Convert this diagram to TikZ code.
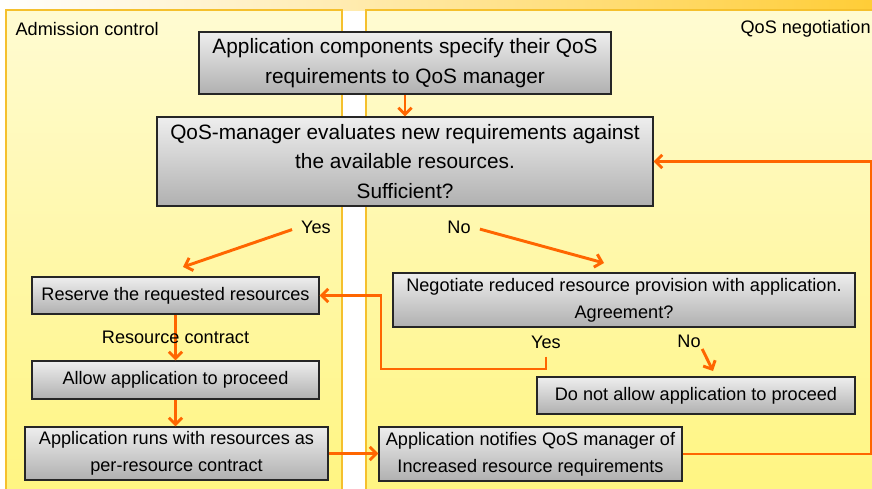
\documentclass[tikz,border=0pt]{standalone}
\usepackage{fontspec}
\setmainfont{Liberation Sans}
\usepackage{xcolor}
\definecolor{lanetop}{RGB}{255,251,210}
\definecolor{lanebot}{RGB}{255,245,128}
\definecolor{laneframe}{RGB}{245,192,45}
\definecolor{bandyel}{RGB}{255,205,55}
\definecolor{arrorange}{RGB}{255,102,0}
\definecolor{boxtop}{RGB}{238,238,238}
\definecolor{boxbot}{RGB}{176,176,176}
\usetikzlibrary{arrows.meta,calc}
\tikzset{
  lane/.style={draw=laneframe,line width=0.8pt,
    top color=lanetop,bottom color=lanebot},
  fc_box/.style={rectangle,
    draw=black!85,line width=0.8pt,
    top color=boxtop,bottom color=boxbot,
    align=center,inner sep=2pt,
    font=\fontsize{13.6}{20}\selectfont},
  fc_big/.style={fc_box,
    font=\fontsize{15.6}{22}\selectfont},
  lbl/.style={font=\fontsize{13.6}{16}\selectfont,inner sep=1pt},
  arr/.style={-{Straight Barb[length=5pt,width=10pt]},
    line width=2.2pt,draw=arrorange},
}

\begin{document}
\begin{tikzpicture}[x=0.75pt,y=-0.75pt]
  \useasboundingbox (0,0) rectangle (872,489);

  % --- Background: top band and the two lanes ---
  \shade[left color=white,right color=bandyel] (0,0) rectangle (872,10);
  \draw[lane] (6,10) rectangle (342,500);
  \draw[lane] (366,10) rectangle (890,500);
  \node (admlbl) [lbl,anchor=west] at (14,29) {Admission control};
  \node (neglbl) [lbl,anchor=west] at (739,29) {QoS negotiation};

  % --- Main flow ---
  \node (spec) [fc_big,minimum width=309pt,minimum height=46.5pt] at (405,63)
    {Application components specify their QoS\\requirements to QoS manager};
  \node (eval) [fc_big,minimum width=372pt,minimum height=66.75pt] at (405,161.5)
    {QoS-manager evaluates new requirements against\\
     the available resources.\\Sufficient?};

  % --- Admission control lane ---
  \node (reserve) [fc_box,minimum width=215.25pt,minimum height=27.75pt] at (175.5,295.5)
    {Reserve the requested resources};
  \node (allow) [fc_box,minimum width=215.25pt,minimum height=28.5pt] at (175.5,380)
    {Allow application to proceed};
  \node (runs) [fc_box,minimum width=227.25pt,minimum height=39.75pt] at (176.5,453.5)
    {Application runs with resources as\\per-resource contract};

  % --- QoS negotiation lane ---
  \node (negot) [fc_box,minimum width=346.5pt,minimum height=40.5pt] at (624,300)
    {Negotiate reduced resource provision with application.\\Agreement?};
  \node (deny) [fc_box,minimum width=238.5pt,minimum height=27.75pt] at (696,395.5)
    {Do not allow application to proceed};
  \node (notify) [fc_box,minimum width=227.25pt,minimum height=40.5pt] at (530.5,454)
    {Application notifies QoS manager of\\Increased resource requirements};

  % --- Decision labels ---
  \node (yes1) [lbl] at (316,227) {Yes};
  \node (no1)  [lbl] at (459,227) {No};
  \node (yes2) [lbl] at (546,342) {Yes};
  \node (no2)  [lbl] at (689,341) {No};
  \coordinate (yes1end) at (183,267);
  \coordinate (no1end) at (604,263);
  \coordinate (no2end) at (713,371);
  \coordinate (loopbend) at (381,369);

  % --- Arrows ---
  \draw[arr] (spec) -- (eval);
  \draw[arr,shorten <=6pt] (yes1.west) -- (yes1end);
  \draw[arr,shorten <=6pt] (no1.east) -- (no1end);
  \draw[arr] (reserve) -- node[lbl] {Resource contract} (allow);
  \draw[arr] (allow.south) -- (allow.south |- runs.north);
  \draw[arr] (runs.east) -- (runs.east -| notify.west);
  % loop back to the evaluation
  \draw[arr] (notify.east) -- ++(189,0) |- (eval.east);
  % agreement: back to reserve
  \draw[arr,shorten <=5pt] (yes2.south) |- (loopbend) |- (reserve.east);
  \draw[arr] (no2.south east) -- (no2end);
\end{tikzpicture}
\end{document}
